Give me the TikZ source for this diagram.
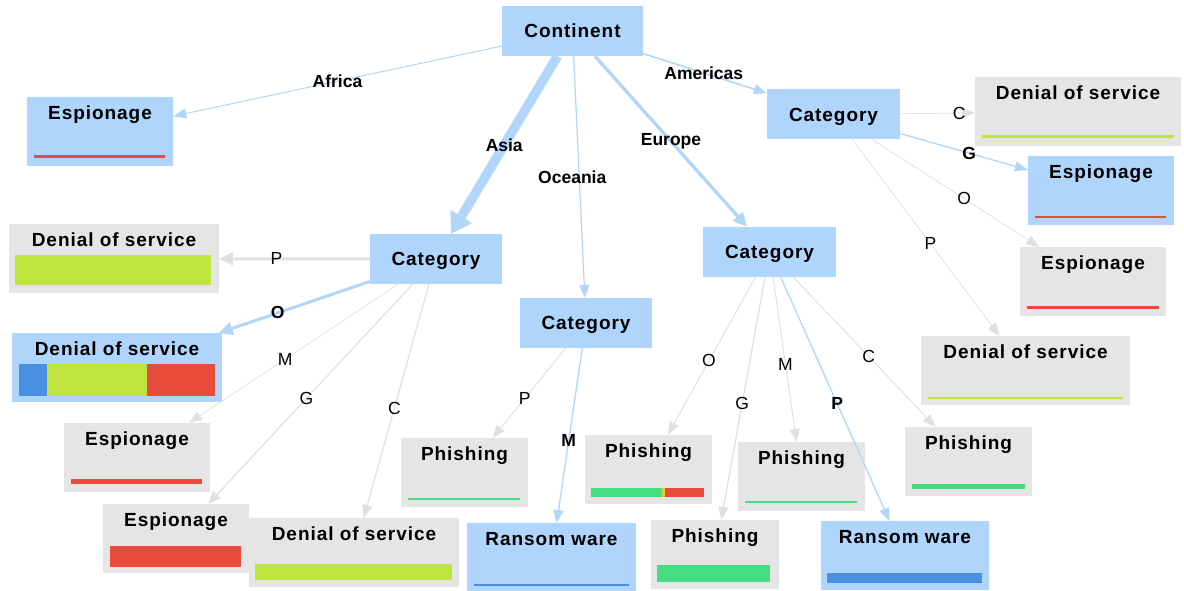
\documentclass[tikz,border=0pt]{standalone}
\usepackage{fontspec}
\setmainfont{Liberation Sans}
\newfontfamily\boxfont{Liberation Sans}[LetterSpace=5]
\usepackage{tikz}
\usetikzlibrary{arrows.meta}
\usepackage{xcolor}

\definecolor{boxBlue}{RGB}{175,213,252}
\definecolor{boxGray}{RGB}{229,229,229}
\definecolor{lineBlue}{RGB}{178,214,250}
\definecolor{lineGray}{RGB}{224,224,224}
\definecolor{barLime}{RGB}{192,228,62}
\definecolor{barRed}{RGB}{231,76,60}
\definecolor{barGreen}{RGB}{68,222,128}
\definecolor{barBlue}{RGB}{74,144,226}
\definecolor{barYellow}{RGB}{226,204,60}

\begin{document}
\begin{tikzpicture}[x=1pt, y=-1pt]

\tikzset
  {
    catBox/.style=    {fill=boxBlue, inner sep=0pt, minimum height=50pt, text height=13.6pt, text depth=0pt, font=\boxfont\bfseries\fontsize{19}{19}\selectfont},
    leafBox/.style=   {inner sep=0pt, text height=22pt, text depth=47pt, anchor=north, font=\boxfont\bfseries\fontsize{19}{19}\selectfont},
    leafBlue/.style=  {leafBox, fill=boxBlue},
    leafGray/.style=  {leafBox, fill=boxGray},
    thinTip/.style=   {-{Triangle[length=13pt, width=10pt]}},
    wideTip/.style=   {-{Triangle[length=14pt, width=13pt]}},
    blueLink/.style=  {lineBlue, thinTip},
    grayLink/.style=  {lineGray, thinTip},
    edgeLab/.style=   {inner sep=0pt, text=black, font=\bfseries\fontsize{17.5}{17.5}\selectfont},
    letterLab/.style= {inner sep=0pt, text=black, font=\fontsize{17.5}{17.5}\selectfont}
  }

\useasboundingbox (0,0) rectangle (1184,591);

% top
\node[catBox, minimum width=141pt] (cont) at (572.5,31) {Continent};

\node[leafBlue, minimum width=146pt] (espAf) at (100,97) {Espionage};
\fill[barRed] (34,155) rectangle (165,158);


% americas
\node[catBox, minimum width=133pt] (catAm) at (833.5,114.5) {Category};

\node[leafGray, minimum width=206pt] (dosAmC) at (1078,77) {Denial of service};
\fill[barLime] (982,135.5) rectangle (1174,138);

\node[leafBlue, minimum width=146pt] (espAmG) at (1101,156) {Espionage};
\fill[barRed] (1035,215.5) rectangle (1166,218);

\node[leafGray, minimum width=146pt] (espAmO) at (1093,247) {Espionage};
\fill[barRed] (1027,306) rectangle (1159,308.5);

\node[leafGray, minimum width=209pt] (dosAmP) at (1025.5,336) {Denial of service};
\fill[barLime] (928,396.5) rectangle (1123,399);


% asia
\node[catBox, minimum width=132pt] (catAs) at (436,259) {Category};

\node[leafGray, minimum width=210pt] (dosAsP) at (114,224) {Denial of service};
\fill[barLime] (15,255) rectangle (211,285);

\node[leafBlue, minimum width=210pt] (dosAsO) at (117,333) {Denial of service};
\fill[barBlue] (19,364) rectangle (47,396);
\fill[barLime] (47,364) rectangle (147,396);
\fill[barRed] (147,364) rectangle (215,396);

\node[leafGray, minimum width=146pt] (espAsM) at (137,423) {Espionage};
\fill[barRed] (71,479) rectangle (202,484);

\node[leafGray, minimum width=146pt] (espAsG) at (176,504) {Espionage};
\fill[barRed] (110,546) rectangle (241,567);

\node[leafGray, minimum width=210pt] (dosAsC) at (354,518) {Denial of service};
\fill[barLime] (255,564) rectangle (452,580);


% oceania
\node[catBox, minimum width=132pt] (catOc) at (586,323) {Category};

\node[leafGray, minimum width=127pt] (phOcP) at (464.5,438) {Phishing};
\fill[barGreen] (408,497.5) rectangle (520,500);

\node[leafBlue, minimum width=169pt] (ranOcM) at (551.5,523) {Ransom ware};
\fill[barBlue] (474,583.5) rectangle (629,586);


% europe
\node[catBox, minimum width=133pt] (catEu) at (769.5,252) {Category};

\node[leafGray, minimum width=127pt] (phEuO) at (648.5,435) {Phishing};
\fill[barGreen] (591,488) rectangle (662,497);
\fill[barYellow] (662,488) rectangle (665,497);
\fill[barRed] (665,488) rectangle (704,497);

\node[leafGray, minimum width=128pt] (phEuG) at (715,520) {Phishing};
\fill[barGreen] (657,565) rectangle (770,582);

\node[leafGray, minimum width=127pt] (phEuM) at (801.5,442) {Phishing};
\fill[barGreen] (745,500.5) rectangle (857,503);

\node[leafBlue, minimum width=168pt] (ranEuP) at (905,521) {Ransom ware};
\fill[barBlue] (827,573) rectangle (982,583);

\node[leafGray, minimum width=127pt] (phEuC) at (968.5,427) {Phishing};
\fill[barGreen] (912,484) rectangle (1025,489);


% links from the top
\draw[blueLink, line width=1pt] (cont) -- node[edgeLab, pos=0.5] {Africa} (espAf);
\draw[lineBlue, line width=9.5pt, -{Triangle[length=20pt, width=24pt]}] (cont) -- node[edgeLab, pos=0.5] {Asia} (catAs);
\draw[blueLink, line width=1.2pt] (cont) -- node[edgeLab, pos=0.5, xshift=-7pt] {Oceania} (catOc);
\draw[lineBlue, wideTip, line width=3.3pt] (cont) -- node[edgeLab, pos=0.5] {Europe} (catEu);
\draw[blueLink, line width=1.5pt] (cont) -- node[edgeLab, pos=0.49] {Americas} (catAm);

% links from americas
\draw[grayLink, line width=0.8pt] (catAm) -- node[letterLab, pos=0.79] {C} (dosAmC);
\draw[blueLink, line width=1.3pt] (catAm) -- node[edgeLab, pos=0.54] {G} (espAmG);
\draw[grayLink, line width=0.8pt] (catAm) -- node[letterLab, pos=0.55] {O} (espAmO);
\draw[grayLink, line width=0.8pt] (catAm) -- node[letterLab, pos=0.53] {P} (dosAmP);

% links from asia
\draw[lineGray, wideTip, line width=3pt] (catAs) -- node[letterLab, pos=0.62] {P} (dosAsP);
\draw[lineBlue, wideTip, line width=3pt] (catAs) -- node[edgeLab, pos=0.61] {O} (dosAsO);
\draw[grayLink, line width=0.8pt] (catAs) -- node[letterLab, pos=0.54] {M} (espAsM);
\draw[grayLink, line width=1.2pt] (catAs) -- node[letterLab, pos=0.52] {G} (espAsG);
\draw[grayLink, line width=1.2pt] (catAs) -- node[letterLab, pos=0.53] {C} (dosAsC);

% links from oceania
\draw[grayLink, line width=1pt] (catOc) -- node[letterLab, pos=0.56] {P} (phOcP);
\draw[blueLink, line width=1.3pt] (catOc) -- node[edgeLab, pos=0.53] {M} (ranOcM);

% links from europe
\draw[grayLink, line width=1pt] (catEu) -- node[letterLab, pos=0.53] {O} (phEuO);
\draw[grayLink, line width=1.2pt] (catEu) -- node[letterLab, pos=0.52] {G} (phEuG);
\draw[grayLink, line width=1pt] (catEu) -- node[letterLab, pos=0.53] {M} (phEuM);
\draw[blueLink, line width=1.3pt] (catEu) -- node[edgeLab, pos=0.52] {P} (ranEuP);
\draw[grayLink, line width=1pt] (catEu) -- node[letterLab, pos=0.53] {C} (phEuC);

\end{tikzpicture}
\end{document}
